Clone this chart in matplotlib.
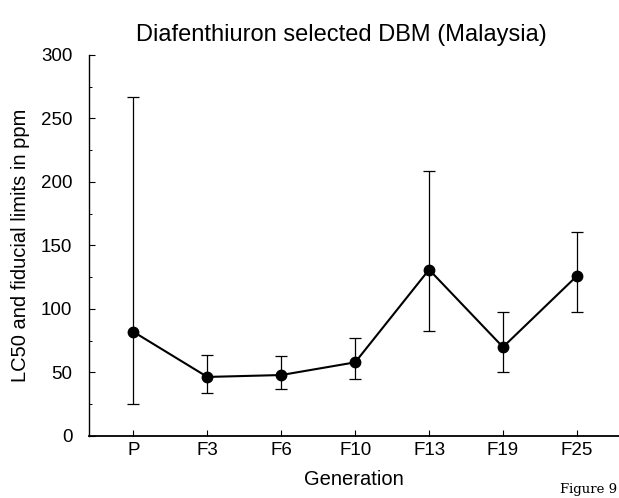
import matplotlib
matplotlib.use('Agg')
from matplotlib import pyplot as plt
from matplotlib.ticker import MultipleLocator

plt.rcParams['font.family'] = ['Liberation Sans', 'DejaVu Sans']

generations = ['P', 'F3', 'F6', 'F10', 'F13', 'F19', 'F25']
lc50 = [82, 46.5, 48, 58, 131, 70, 126]
upper = [267, 64, 63, 77, 209, 98, 161]
lower = [25, 34, 37, 45, 83, 50, 98]

x = list(range(len(generations)))
err_lo = [v - l for v, l in zip(lc50, lower)]
err_hi = [u - v for v, u in zip(lc50, upper)]

fig = plt.figure(figsize=(6.19, 4.98), dpi=100)
ax = fig.add_axes([0.144, 0.1245, 0.856, 0.7651])

ax.errorbar(x, lc50, yerr=[err_lo, err_hi], fmt='none', ecolor='black',
            elinewidth=0.9, capsize=4, capthick=0.9)
ax.plot(x, lc50, color='black', lw=1.5, marker='o', ms=7.5)

ax.set_xlim(-0.6, 6.57)
ax.set_ylim(0, 300)
ax.set_xticks(x)
ax.set_xticklabels(generations)
ax.yaxis.set_major_locator(MultipleLocator(50))
ax.yaxis.set_minor_locator(MultipleLocator(25))
ax.tick_params(axis='both', which='major', direction='in', length=4,
               width=0.8, labelsize=13.5)
ax.tick_params(axis='y', which='major', pad=12)
ax.tick_params(axis='x', which='major', pad=4)
ax.tick_params(axis='y', which='minor', direction='in', length=2.5, width=0.7)
ax.tick_params(axis='x', which='minor', bottom=False)

for side in ['top', 'right']:
    ax.spines[side].set_visible(False)
ax.spines['left'].set_linewidth(1.0)
ax.spines['bottom'].set_linewidth(1.3)

ax.set_xlabel('Generation', fontsize=14.5, labelpad=8)
ax.set_ylabel('LC50 and fiducial limits in ppm', fontsize=14.5, labelpad=8)
fig.text(0.551, 0.93, 'Diafenthiuron selected DBM (Malaysia)', fontsize=17,
         ha='center', va='center')
fig.text(0.905, 0.004, 'Figure 9', fontsize=9.5, family='DejaVu Serif',
         ha='left', va='bottom')

fig.savefig('out.png', dpi=100)
